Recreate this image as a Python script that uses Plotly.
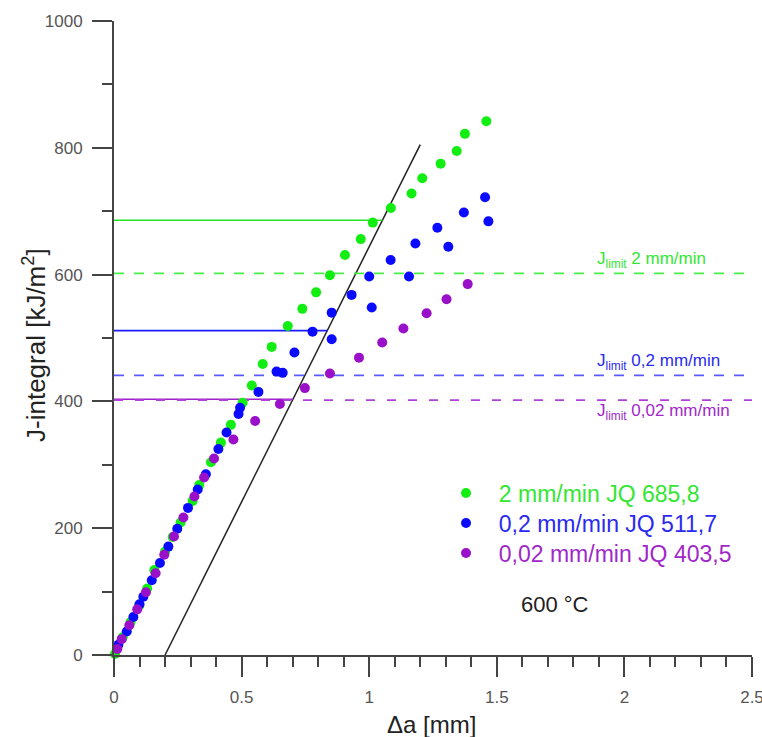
import plotly.graph_objects as go

# ---- data ----
green_x = [0.004, 0.034, 0.065, 0.099, 0.130, 0.158, 0.200, 0.230, 0.261, 0.308, 0.334, 0.380,
           0.419, 0.458, 0.504, 0.540, 0.583, 0.618, 0.681, 0.738, 0.792, 0.846, 0.905, 0.967,
           1.014, 1.085, 1.166, 1.208, 1.280, 1.343, 1.375, 1.459]
green_y = [1.5, 28, 52, 78, 105, 134, 163, 186, 209, 243, 268, 304,
           335, 363, 398, 425, 459, 486, 519, 546, 572, 599, 631, 656,
           682, 705, 728, 752, 775, 795, 822, 842]

blue_x = [0.017, 0.050, 0.076, 0.100, 0.115, 0.148, 0.180, 0.213, 0.248, 0.290, 0.328, 0.360,
          0.409, 0.441, 0.488, 0.494, 0.566, 0.637, 0.661, 0.707, 0.778, 0.853, 0.853, 0.931,
          1.000, 1.010, 1.084, 1.156, 1.181, 1.267, 1.310, 1.371, 1.454, 1.467]
blue_y = [16, 37, 60, 80, 92, 118, 145, 171, 199, 232, 261, 285,
          325, 351, 380, 390, 415, 447, 445, 477, 510, 498, 540, 568,
          597, 548, 623, 597, 649, 674, 644, 698, 722, 684]

purple_x = [0.013, 0.030, 0.060, 0.091, 0.125, 0.163, 0.197, 0.235, 0.272, 0.315, 0.353, 0.392,
            0.468, 0.553, 0.650, 0.748, 0.846, 0.960, 1.051, 1.134, 1.225, 1.303, 1.386]
purple_y = [9.5, 25, 47, 72, 99, 129, 158, 187, 217, 250, 280, 310,
            340, 369, 396, 421, 444, 469, 493, 515, 539, 561, 585]

blunt_x = [0.2, 1.2]
blunt_y = [0, 805]

series_names = ["2 mm/min JQ 685,8", "0,2 mm/min JQ 511,7", "0,02 mm/min JQ 403,5"]
jq_values = [685.8, 511.7, 403.5]
jlimit_values = [602, 441, 402]
jlimit_labels = ["J<sub>limit</sub> 2 mm/min", "J<sub>limit</sub> 0,2 mm/min", "J<sub>limit</sub> 0,02 mm/min"]
x_range = [0, 2.5]
y_range = [0, 1000]
temperature_label = "600 °C"

# ---- styles ----
FONT = "Liberation Sans, Arial, sans-serif"
mcolors = ["#12ee12", "#0a0aff", "#9a10c8"]
solid_colors = ["#22e622", "#1a1aff", "#a020d0"]
dash_colors = ["#4aee4a", "#5a5aff", "#b040d8"]
text_colors = ["#33e633", "#2a2af0", "#a028c8"]
dash_styles = ["10px,10px", "10px,10px", "9px,12px"]

fig = go.Figure()

# blunting line
fig.add_trace(go.Scatter(x=blunt_x, y=blunt_y, mode="lines",
                         line=dict(color="#222222", width=1.5), showlegend=False, hoverinfo="skip"))

slope = (blunt_y[1] - blunt_y[0]) / (blunt_x[1] - blunt_x[0])
for i in range(3):
    xe = blunt_x[0] + (jq_values[i] - blunt_y[0]) / slope
    fig.add_trace(go.Scatter(x=[x_range[0], xe], y=[jq_values[i], jq_values[i]], mode="lines",
                             line=dict(color=solid_colors[i], width=1.6), showlegend=False,
                             hoverinfo="skip"))
    fig.add_trace(go.Scatter(x=x_range, y=[jlimit_values[i], jlimit_values[i]], mode="lines",
                             line=dict(color=dash_colors[i], width=1.6, dash=dash_styles[i]),
                             showlegend=False, hoverinfo="skip"))

legend_ids = ["legend", "legend2", "legend3"]
data = [(green_x, green_y), (blue_x, blue_y), (purple_x, purple_y)]
for i in range(3):
    fig.add_trace(go.Scatter(x=data[i][0], y=data[i][1], mode="markers",
                             marker=dict(color=mcolors[i], size=10, line=dict(width=0)),
                             name="\u00a0\u00a0" + series_names[i], legend=legend_ids[i],
                             cliponaxis=False))

axis_common = dict(showline=True, linecolor="#444444", linewidth=2, ticks="outside",
                   ticklen=20, tickwidth=2, tickcolor="#444444", showgrid=False,
                   zeroline=False, ticklabeloverflow="allow",
                   tickfont=dict(family=FONT, size=17, color="#555555"))

fig.update_xaxes(range=x_range, dtick=0.5, tick0=0, ticklabelstandoff=6,
                 minor=dict(dtick=0.1, ticks="outside", ticklen=10, tickwidth=2, tickcolor="#444444"),
                 **axis_common)
fig.update_yaxes(range=y_range, dtick=200, tick0=0, ticklabelstandoff=6,
                 minor=dict(dtick=100, ticks="outside", ticklen=10, tickwidth=2, tickcolor="#444444"),
                 **axis_common)

annotations = [
    dict(text="Δa [mm]", xref="paper", yref="paper", x=0.4984, y=-0.1104, showarrow=False,
         xanchor="center", yanchor="middle", font=dict(family=FONT, size=24, color="#222222")),
    dict(text="J-integral [kJ/m<sup>2</sup>]", xref="paper", yref="paper", x=-0.1238, y=0.489,
         showarrow=False, textangle=-90, xanchor="center", yanchor="middle",
         font=dict(family=FONT, size=26, color="#222222")),
    dict(text=temperature_label, xref="x", yref="y", x=1.728, y=79, showarrow=False,
         xanchor="center", yanchor="middle", font=dict(family=FONT, size=22, color="#222222")),
]
label_y = [623, 462, 383]
for i in range(3):
    annotations.append(dict(text=jlimit_labels[i], xref="x", yref="y", x=1.885, y=label_y[i],
                            showarrow=False, xanchor="left", yanchor="middle",
                            font=dict(family=FONT, size=17, color=text_colors[i])))

legend_y = [0.2555, 0.2082, 0.1609]
legend_layout = {}
for i in range(3):
    legend_layout[legend_ids[i]] = dict(x=0.5204, y=legend_y[i], xanchor="left", yanchor="middle",
                                        bgcolor="rgba(0,0,0,0)", borderwidth=0,
                                        font=dict(family=FONT, size=23, color=text_colors[i]))

fig.update_layout(width=762, height=737, margin=dict(l=114, r=10, t=21, b=82, autoexpand=False),
                  plot_bgcolor="white", paper_bgcolor="white",
                  font=dict(family=FONT), annotations=annotations, **legend_layout)

fig.write_html("out.html", config={"displayModeBar": False},
               post_script="document.body.style.margin='0px';")
